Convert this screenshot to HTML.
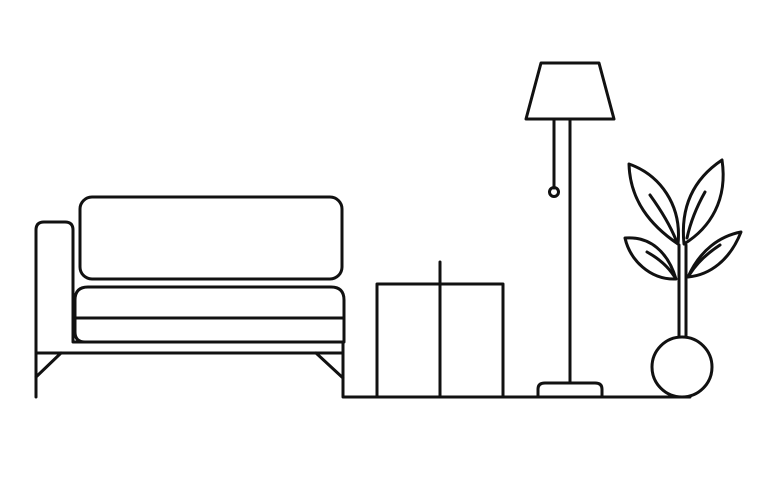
<!DOCTYPE html>
<html><head><style>html,body{margin:0;padding:0;background:#fff}svg{display:block}</style></head>
<body>
<svg width="783" height="491" viewBox="0 0 783 491" fill="none" stroke="#111" stroke-width="3" stroke-linejoin="round" stroke-linecap="round">
<!-- sofa -->
<path d="M36 397 V230 Q36 222 44 222 H65 Q73 222 73 230 V342 H343"/>
<rect x="80" y="197" width="262" height="82" rx="12"/>
<path d="M75 318 V300 Q75 287 88 287 H331 Q344 287 344 300 V318 Z"/>
<path d="M75 318 V332 Q75 342 85 342 H344 V318"/>
<path d="M36 353 H343"/>
<path d="M61 353 L36 377"/>
<path d="M316 353 L343 378"/>
<path d="M343 342 V397 H690"/>
<!-- box -->
<path d="M377 396 V284 H503 V396"/>
<path d="M440 262 V396"/>
<!-- lamp -->
<path d="M541 63 H599 L614 119 H526 Z"/>
<path d="M570 119 V383"/>
<path d="M554 119 V188"/>
<circle cx="554" cy="192" r="4.5"/>
<path d="M538 396 V389 Q538 383 545 383 H595 Q602 383 602 389 V396"/>
<!-- plant -->
<circle cx="682" cy="367" r="30"/>
<path d="M679 337 V245 M686 337 V245"/>
<path d="M678 244 C650 225 630 200 629 164 C660 175 682 205 678 244 Z"/>
<path d="M650 195 Q668 220 676 240"/>
<path d="M684 244 C680 205 695 178 722 160 C728 200 710 228 684 244 Z"/>
<path d="M705 192 Q692 215 687 238"/>
<path d="M676 279 C650 280 630 260 625 238 C650 236 668 252 676 279 Z"/>
<path d="M647 252 Q665 262 674 276"/>
<path d="M688 277 C700 250 720 236 741 232 C730 260 710 275 688 277 Z"/>
<path d="M720 245 Q700 258 690 274"/>
</svg>
</body></html>
